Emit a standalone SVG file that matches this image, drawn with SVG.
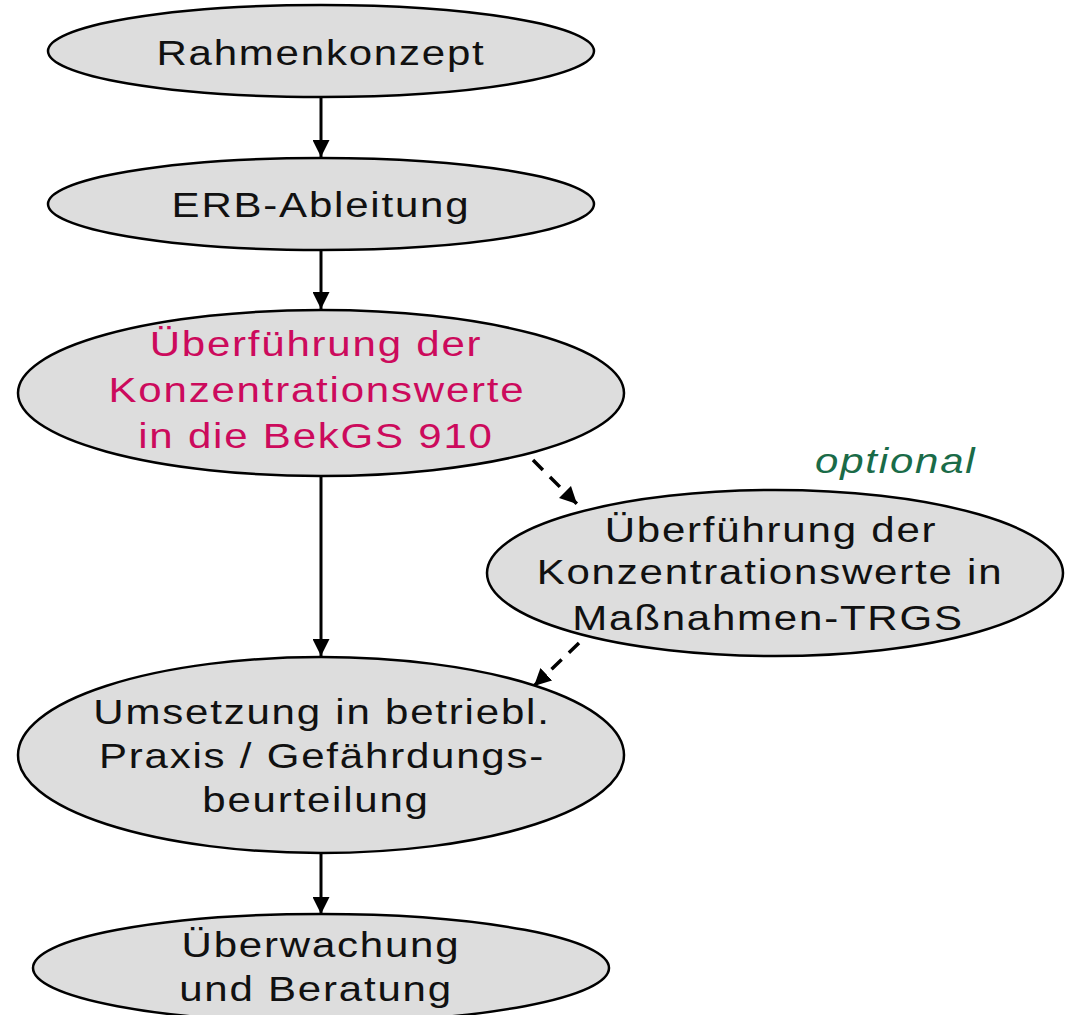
<svg xmlns="http://www.w3.org/2000/svg" width="1067" height="1015" viewBox="0 0 1067 1015">
<defs>
<style>
.node{fill:#dddddd;stroke:#000;stroke-width:2.5}
.t{font-family:"Liberation Sans",Arial,sans-serif;font-size:35px;letter-spacing:1.5px;text-anchor:middle;fill:#111}
.pink{fill:#cc0a5c}
.opt{font-family:"Liberation Sans",Arial,sans-serif;font-size:35px;letter-spacing:1.5px;font-style:italic;fill:#1a6b48}
.c{stroke:#000;stroke-width:3;fill:none}
.d{stroke:#000;stroke-width:3.5;fill:none;stroke-dasharray:14 10}
</style>
<marker id="ah" markerUnits="userSpaceOnUse" viewBox="0 0 16 16" markerWidth="17" markerHeight="17" refX="16" refY="8" orient="auto">
<path d="M0,0 L16,8 L0,16 z" fill="#000"/>
</marker>
</defs>
<rect width="1067" height="1015" fill="#fff"/>
<g id="connectors">
<line class="c" x1="321" y1="98" x2="321" y2="157" marker-end="url(#ah)"/>
<line class="c" x1="321" y1="250" x2="321" y2="309" marker-end="url(#ah)"/>
<line class="c" x1="321" y1="476" x2="321" y2="656" marker-end="url(#ah)"/>
<line class="c" x1="321" y1="853" x2="321" y2="914" marker-end="url(#ah)"/>
<line class="d" x1="533" y1="460" x2="577" y2="504" marker-end="url(#ah)"/>
<line class="d" x1="579" y1="643" x2="534" y2="686" marker-end="url(#ah)"/>
</g>
<g id="n1">
<ellipse class="node" cx="321" cy="51" rx="273" ry="46"/>
<text class="t" transform="translate(321,65) scale(1.2,1)">Rahmenkonzept</text>
</g>
<g id="n2">
<ellipse class="node" cx="321" cy="204" rx="273" ry="46"/>
<text class="t" transform="translate(321,217) scale(1.2,1)">ERB-Ableitung</text>
</g>
<g id="n3">
<ellipse class="node" cx="321" cy="393" rx="303" ry="83"/>
<text class="t pink" transform="translate(316,356) scale(1.2,1)">Überführung der</text>
<text class="t pink" transform="translate(317,402) scale(1.2,1)">Konzentrationswerte</text>
<text class="t pink" transform="translate(316,448) scale(1.2,1)">in die BekGS 910</text>
</g>
<g id="n4">
<ellipse class="node" cx="775" cy="573" rx="288" ry="83"/>
<text class="t" transform="translate(771,542) scale(1.2,1)">Überführung der</text>
<text class="t" transform="translate(770,584) scale(1.2,1)">Konzentrationswerte in</text>
<text class="t" transform="translate(768,630) scale(1.2,1)">Maßnahmen-TRGS</text>
</g>
<g id="n5">
<ellipse class="node" cx="321" cy="755" rx="303" ry="98"/>
<text class="t" transform="translate(322,724) scale(1.2,1)">Umsetzung in betriebl.</text>
<text class="t" transform="translate(322,768) scale(1.2,1)">Praxis / Gefährdungs-</text>
<text class="t" transform="translate(316,812) scale(1.2,1)">beurteilung</text>
</g>
<g id="n6">
<ellipse class="node" cx="321" cy="968" rx="288" ry="54"/>
<text class="t" transform="translate(321,957) scale(1.2,1)">Überwachung</text>
<text class="t" transform="translate(316,1001) scale(1.2,1)">und Beratung</text>
</g>
<text class="opt" transform="translate(815,473) scale(1.2,1)">optional</text>
</svg>
